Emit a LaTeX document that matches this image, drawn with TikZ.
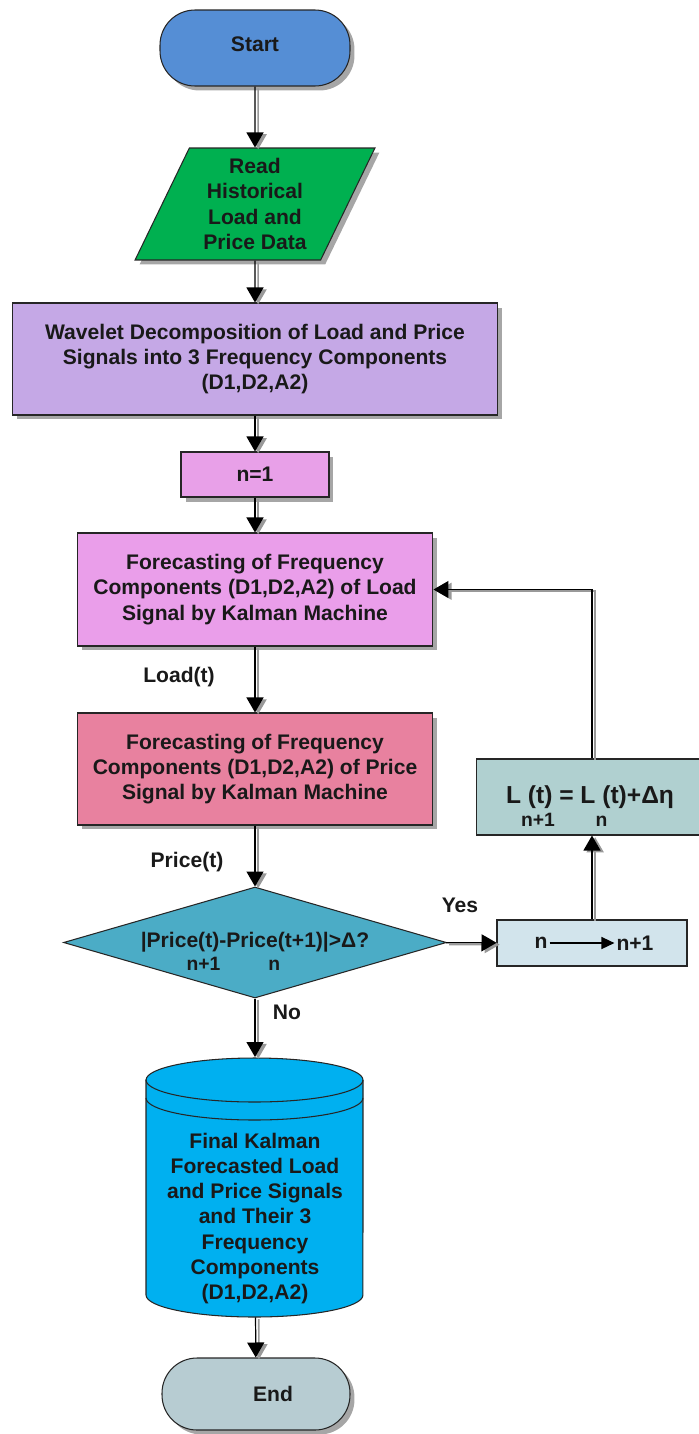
\documentclass[tikz,border=0pt]{standalone}
\usepackage{fontspec}
\setmainfont{Liberation Sans}
\usepackage{tikz}
\usetikzlibrary{arrows.meta}
\usetikzlibrary{shapes.geometric}
\usetikzlibrary{shadows}

\definecolor{startblue}{HTML}{558ED5}
\definecolor{readgreen}{HTML}{00B050}
\definecolor{waveviolet}{HTML}{C5A8E6}
\definecolor{initpink}{HTML}{E8A0E8}
\definecolor{loadpink}{HTML}{EA9EEA}
\definecolor{pricerose}{HTML}{E8819F}
\definecolor{decideteal}{HTML}{4BACC6}
\definecolor{incrblue}{HTML}{D2E4EC}
\definecolor{updgrey}{HTML}{B0D0D0}
\definecolor{finalcyan}{HTML}{00B0F0}
\definecolor{endgrey}{HTML}{B7CCD2}

% index written under the word before it
\newcommand{\subbelow}[2][0pt]{\rlap{\smash{\hspace{#1}\raisebox{-13pt}{\fontsize{11}{13}\selectfont #2}}}}

\tikzset{
  txt/.style={font=\bfseries\fontsize{12}{14.4}\selectfont, align=center, text=black!90},
  box/.style={txt, rectangle, draw=black!85, line width=0.6pt},
  shade/.style={drop shadow={shadow xshift=0.09cm, shadow yshift=-0.09cm, fill=black!35, opacity=1}},
  pill/.style={box, rounded corners=0.7cm},
  flow/.style={-{Triangle[length=0.3cm,width=0.34cm]}, line width=0.7pt,
    preaction={draw=black!40, line width=0.9pt, transform canvas={xshift=1.8pt,yshift=-1pt}}},
}

\begin{document}
\begin{tikzpicture}[x=0.02cm, y=-0.02cm]
  \useasboundingbox (0,0) rectangle (699,1434);

  % main column
  \node (start) [pill, fill=startblue, shade, minimum width=3.8cm, minimum height=1.52cm] at (255,48) {\raisebox{0.16cm}{Start}};
  \node (read) [box, trapezium, trapezium left angle=65, trapezium right angle=115, trapezium stretches=true,
    fill=readgreen, shade, minimum width=4.8cm, minimum height=2.24cm, inner sep=0pt] at (255,204) {Read\\Historical\\Load and\\Price Data};
  \node (wave) [box, fill=waveviolet, shade, minimum width=9.72cm, minimum height=2.24cm] at (255,359)
    {Wavelet Decomposition of Load and Price\\Signals into 3 Frequency Components\\(D1,D2,A2)};
  \node (init) [box, fill=initpink, shade, minimum width=2.96cm, minimum height=0.9cm] at (255,474.5) {n=1};
  \node (fload) [box, fill=loadpink, shade, minimum width=7.12cm, minimum height=2.26cm] at (255,589.5)
    {Forecasting of Frequency\\Components (D1,D2,A2) of Load\\Signal by Kalman Machine};
  \node (fprice) [box, fill=pricerose, shade, minimum width=7.12cm, minimum height=2.24cm] at (255,769)
    {Forecasting of Frequency\\Components (D1,D2,A2) of Price\\Signal by Kalman Machine};
  \node (decide) [box, diamond, aspect=3.45, inner sep=0pt, fill=decideteal, minimum width=7.66cm, minimum height=2.22cm] at (255,942.5)
    {|Price\subbelow[-0.55em]{n+1}(t)-Price\subbelow[-0.45em]{n}(t+1)|>Δ?};

  % update loop
  \node (incr) [box, fill=incrblue, minimum width=3.8cm, minimum height=0.92cm] at (592,943) {};
  \node (nold) [txt, inner sep=1pt] at (541,943) {n};
  \node (nnew) [txt, inner sep=1pt] at (635,943) {n+1};
  \node (lupdate) [box, fill=updgrey, minimum width=4.56cm, minimum height=1.52cm, font=\bfseries\fontsize{14}{16}\selectfont] at (590,797)
    {L\subbelow{n+1} (t) = L\subbelow{n} (t)+Δη};

  % database of results
  \filldraw [fill=finalcyan, draw=black!85, line width=0.6pt] (146,1080) -- (146,1295)
    arc [start angle=180, end angle=360, x radius=2.17cm, y radius=0.44cm] -- (363,1080)
    arc [start angle=0, end angle=180, x radius=2.17cm, y radius=0.44cm] -- cycle;
  \draw [black!85, line width=0.6pt] (146,1080) arc [start angle=180, end angle=360, x radius=2.17cm, y radius=0.44cm];
  \draw [black!85, line width=0.6pt] (146,1098) arc [start angle=180, end angle=360, x radius=2.17cm, y radius=0.44cm];
  \coordinate (finaltop) at (255,1057);
  \node (final) [txt, minimum width=4.34cm, minimum height=3.94cm] at (255,1218.5)
    {Final Kalman\\Forecasted Load\\and Price Signals\\and Their 3\\Frequency\\Components\\(D1,D2,A2)};
  \node (finish) [pill, fill=endgrey, shade, minimum width=3.76cm, minimum height=1.44cm] at (256,1394) {\hspace*{0.68cm}End};

  % labels
  \node (loadlbl) [txt] at (179,677) {Load(t)};
  \node (pricelbl) [txt] at (187,862) {Price(t)};
  \node (yeslbl) [txt] at (460,905) {Yes};
  \node (nolbl) [txt] at (287,1012) {No};

  % connectors
  \draw [flow] (start) -- (read);
  \draw [flow] (read) -- (wave);
  \draw [flow] (wave) -- (init);
  \draw [flow] (init) -- (fload);
  \draw [flow] (fload) -- (fprice);
  \draw [flow] (fprice) -- (decide);
  \draw [flow] (decide) -- (incr);
  \draw [flow] (decide.south) -- (finaltop);
  \draw [flow] (final) -- (finish);
  \draw [flow] (incr.north) -- (incr.north |- lupdate.south);
  \draw [flow] (incr.north |- lupdate.north) |- (fload.east);
  \draw [-{Triangle[length=0.26cm,width=0.24cm]}, line width=0.8pt] (nold) -- (nnew);
\end{tikzpicture}
\end{document}
